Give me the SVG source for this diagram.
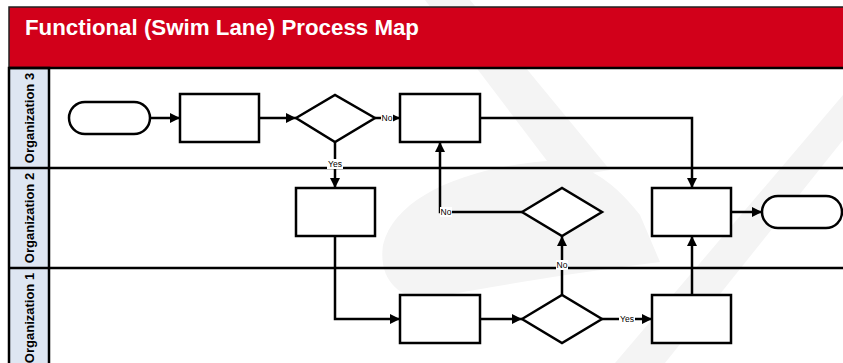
<svg xmlns="http://www.w3.org/2000/svg" width="843" height="363" viewBox="0 0 843 363">
<style>
.shape{fill:#fff;stroke:#000;stroke-width:2.5}
.conn{fill:none;stroke:#000;stroke-width:2.5}
.lane{stroke:#000;stroke-width:2.5;fill:none}
.lbl{font-family:"Liberation Sans",Arial,sans-serif;font-weight:bold;font-size:13px;fill:#000;text-anchor:middle}
.small{font-family:"Liberation Sans",Arial,sans-serif;font-size:8.5px;fill:#000;text-anchor:middle}
.bg{fill:#f4f4f4}
</style>
<defs>
<marker id="arr" markerUnits="userSpaceOnUse" markerWidth="11" markerHeight="10" refX="10" refY="5" orient="auto">
<path d="M0,0 L10,5 L0,10 z" fill="#000"/>
</marker>
</defs>
<rect x="0" y="0" width="843" height="363" fill="#fff"/>
<g id="background">
<path class="bg" d="M425,0 L470,0 L610,170 L560,178 Z"/>
<path class="bg" d="M843,95 L843,140 L665,363 L615,363 Z"/>
<path class="bg" d="M560,160 C470,165 395,195 383,245 C378,280 400,300 430,298 C500,285 580,272 660,262 L640,215 C620,190 600,170 560,160 Z"/>
</g>
<g id="header">
<rect x="9" y="7" width="836" height="61" fill="#d2001a" stroke="#222" stroke-width="1.5"/>
<text x="25" y="35" font-family="'Liberation Sans',Arial,sans-serif" font-weight="bold" font-size="22.3" fill="#fff">Functional (Swim Lane) Process Map</text>
</g>
<g id="lanes">
<rect x="9" y="68" width="40" height="300" fill="#dee6f2" stroke="#000" stroke-width="2.5"/>
<line class="lane" x1="9" y1="68" x2="843" y2="68"/>
<line class="lane" x1="9" y1="168" x2="843" y2="168"/>
<line class="lane" x1="9" y1="268" x2="843" y2="268"/>
<text class="lbl" transform="translate(34,118) rotate(-90)">Organization 3</text>
<text class="lbl" transform="translate(34,218) rotate(-90)">Organization 2</text>
<text class="lbl" transform="translate(34,318) rotate(-90)">Organization 1</text>
</g>
<g id="connectors">
<path class="conn" d="M150,118 L180,118" marker-end="url(#arr)"/>
<path class="conn" d="M259,118 L296,118" marker-end="url(#arr)"/>
<path class="conn" d="M375,118 L400,118" marker-end="url(#arr)"/>
<path class="conn" d="M335,142 L335,188" marker-end="url(#arr)"/>
<path class="conn" d="M480,118 L692,118 L692,188" marker-end="url(#arr)"/>
<path class="conn" d="M335,236 L335,319 L400,319" marker-end="url(#arr)"/>
<path class="conn" d="M480,319 L522,319" marker-end="url(#arr)"/>
<path class="conn" d="M562,295 L562,236" marker-end="url(#arr)"/>
<path class="conn" d="M522,212 L440,212 L440,142" marker-end="url(#arr)"/>
<path class="conn" d="M602,319 L652,319" marker-end="url(#arr)"/>
<path class="conn" d="M692,295 L692,236" marker-end="url(#arr)"/>
<path class="conn" d="M731,212 L762,212" marker-end="url(#arr)"/>
<rect x="381" y="113" width="12" height="10" fill="#fff"/>
<text class="small" x="387" y="121">No</text>
<rect x="327" y="159" width="16" height="10" fill="#fff"/>
<text class="small" x="335" y="167">Yes</text>
<rect x="440" y="207" width="12" height="10" fill="#fff"/>
<text class="small" x="446" y="215">No</text>
<rect x="556" y="260" width="12" height="10" fill="#fff"/>
<text class="small" x="562" y="268">No</text>
<rect x="619" y="314" width="16" height="10" fill="#fff"/>
<text class="small" x="627" y="322">Yes</text>
</g>
<g id="start"><rect class="shape" x="69" y="102" width="81" height="32" rx="16" ry="16"/></g>
<g id="task1"><rect class="shape" x="180" y="94" width="79" height="48"/></g>
<g id="decision1"><path class="shape" d="M296,118 L335,95 L375,118 L335,142 Z"/></g>
<g id="task2"><rect class="shape" x="400" y="94" width="80" height="48"/></g>
<g id="task3"><rect class="shape" x="296" y="188" width="79" height="48"/></g>
<g id="decision2"><path class="shape" d="M522,212 L562,188 L602,212 L562,236 Z"/></g>
<g id="task4"><rect class="shape" x="652" y="188" width="79" height="48"/></g>
<g id="end"><rect class="shape" x="762" y="196" width="80" height="32" rx="16" ry="16"/></g>
<g id="task5"><rect class="shape" x="400" y="295" width="80" height="48"/></g>
<g id="decision3"><path class="shape" d="M522,319 L562,295 L602,319 L562,343 Z"/></g>
<g id="task6"><rect class="shape" x="652" y="295" width="79" height="48"/></g>
</svg>
